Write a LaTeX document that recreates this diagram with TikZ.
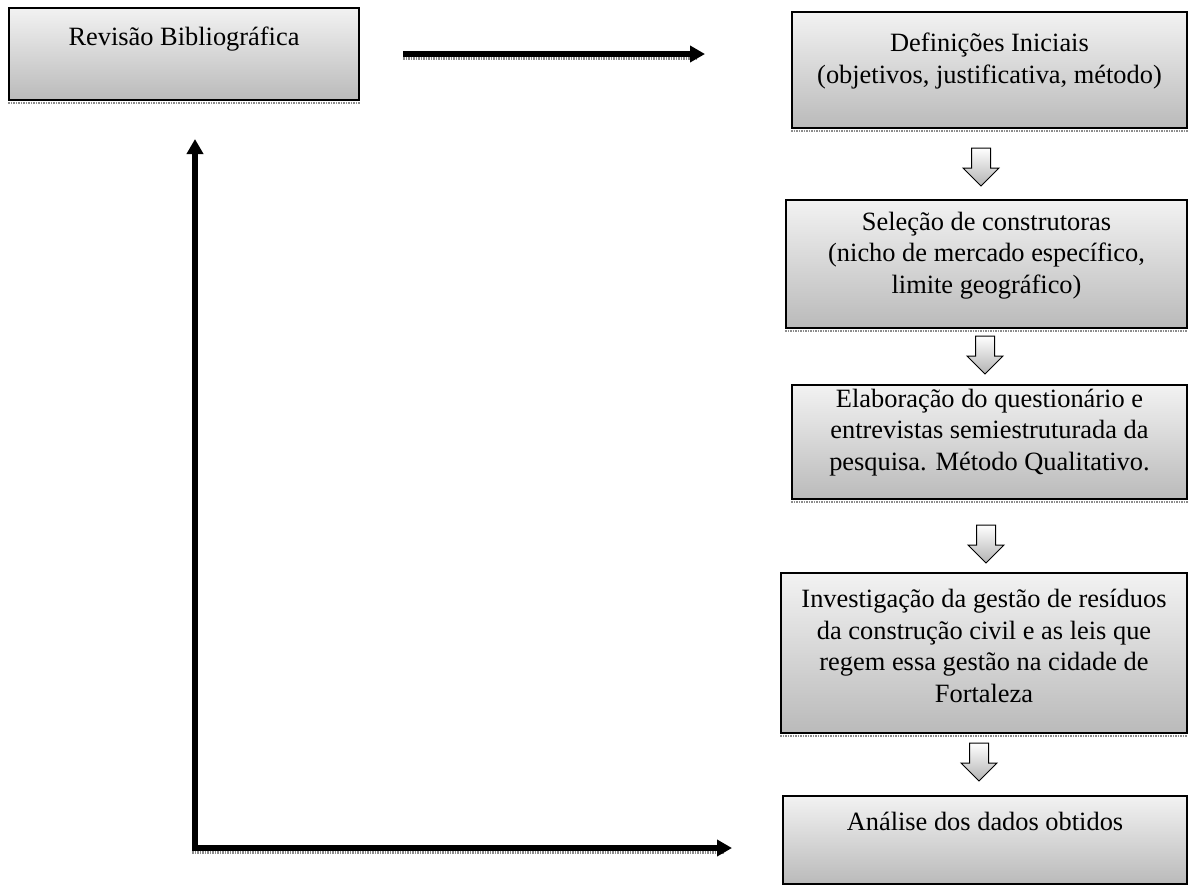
\documentclass[tikz,border=0pt]{standalone}
\usepackage{fontspec}
\setmainfont{Liberation Serif}
\usetikzlibrary{arrows.meta,calc}
\tikzset{bigtip/.tip={Triangle[length=15pt,width=16pt]}}
\begin{document}
\begin{tikzpicture}[x=1pt,y=-1pt,
  box/.style={rectangle,draw=black,line width=1.4pt,top color=black!5,bottom color=black!27,inner sep=0pt},
  lbl/.style={anchor=base,align=center,inner sep=0pt,font=\fontsize{26.4}{31.5}\selectfont},
  shad/.style={draw=black!45,line width=2.8pt,dash pattern=on 1.5pt off 1pt},
  conn/.style={line width=5.5pt,line join=miter},
  blk/.style={draw=black,line width=1pt,top color=white,bottom color=black!30,line join=miter},
  downarr/.pic={\path[blk] (-9.5,0) -- (9.5,0) -- (9.5,20) -- (18,20) -- (0,38) -- (-18,20) -- (-9.5,20) -- cycle;}]
\useasboundingbox (0,0) rectangle (1189,887);

% boxes
\node[box,minimum width=350pt,minimum height=92pt] (b1) at (184,54) {};
\node[box,minimum width=395pt,minimum height=116pt] (b2) at (989.5,70) {};
\node[box,minimum width=401pt,minimum height=128pt] (b3) at (986.5,264) {};
\node[box,minimum width=395pt,minimum height=114pt] (b4) at (989.5,442) {};
\node[box,minimum width=406pt,minimum height=160pt] (b5) at (984,653) {};
\node[box,minimum width=404pt,minimum height=88pt] (b6) at (985,840) {};

% box shadows
\foreach \b in {b1,b2,b3,b4,b5}{
  \draw[shad] ([yshift=-2.3pt]\b.south west) -- ([yshift=-2.3pt]\b.south east);
}

% texts (anchored at the baseline of the last line)
\node[lbl] (t1) at (184,45) {Revisão Bibliográfica};
\node[lbl] (t2) at (989.5,83) {Definições Iniciais\\(objetivos, justificativa, método)};
\node[lbl] (t3) at (986.5,293) {Seleção de construtoras\\(nicho de mercado específico,\\limite geográfico)};
\node[lbl] (t4) at (989.5,470) {Elaboração do questionário e\\entrevistas semiestruturada da\\pesquisa. Método Qualitativo.};
\node[lbl] (t5) at (984,702) {Investigação da gestão de resíduos\\da construção civil e as leis que\\regem essa gestão na cidade de\\Fortaleza};
\node[lbl] (t6) at (985,830) {Análise dos dados obtidos};

% block arrows between the steps
\pic at (981,148) {downarr};
\pic at (985,336) {downarr};
\pic at (986,525) {downarr};
\pic at (979,743) {downarr};

% line connectors
\coordinate (a1s) at (403,54);
\coordinate (a1e) at (705,54);
\coordinate (lt) at (195,139);
\coordinate (lc) at (195,848);
\coordinate (le) at (732,848);

\draw[shad,line width=3pt] ($(a1s)+(0,4.5)$) -- ($(a1e)+(-8,4.5)$);
\draw[shad,line width=3pt] ($(lc)+(-3,4.5)$) -- ($(le)+(-8,4.5)$);

\draw[conn,-bigtip] (a1s) -- (a1e);
\draw[conn,bigtip-bigtip] (lt) -- (lc) -- (le);
\end{tikzpicture}
\end{document}
